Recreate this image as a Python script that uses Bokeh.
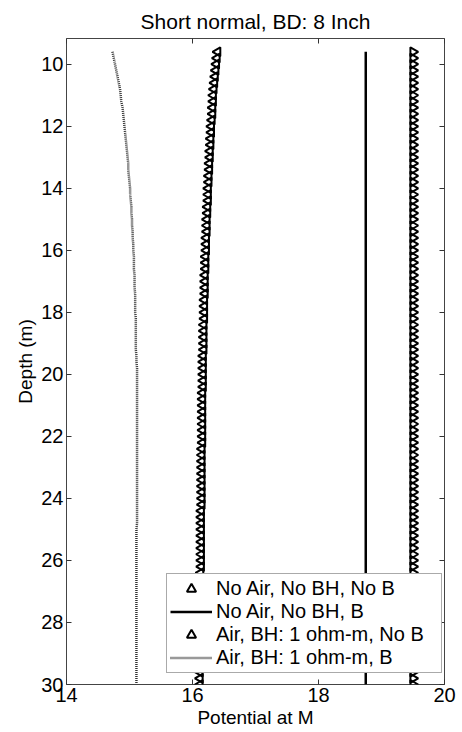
from math import pi

from bokeh.plotting import figure
from bokeh.models import (Range1d, LinearAxis, FixedTicker, Legend, LegendItem,
                          CustomJSTickFormatter)
from bokeh.embed import file_html
from bokeh.resources import INLINE

# Depth samples (m), every 0.2 m from 9.6 to 30.0
depth = [round(9.6 + 0.2 * i, 1) for i in range(103)]

# Potential at M for each model
no_air_no_bh_no_b = [19.50] * len(depth)
no_air_no_bh_b = [18.75] * len(depth)
air_bh_1ohm_no_b = [
    16.40, 16.39,
    16.38, 16.37, 16.36, 16.35, 16.34,
    16.33, 16.33, 16.32, 16.32, 16.31,
    16.30, 16.30, 16.29, 16.29, 16.28,
    16.28, 16.27, 16.27, 16.26, 16.26,
    16.25, 16.25, 16.25, 16.24, 16.24,
    16.23, 16.23, 16.23, 16.22, 16.22,
    16.22, 16.21, 16.21, 16.21, 16.20,
    16.20, 16.20, 16.20, 16.19, 16.19,
    16.19, 16.19, 16.18, 16.18, 16.18,
    16.18, 16.18, 16.17, 16.17, 16.17,
    16.17, 16.17, 16.17, 16.16, 16.16,
    16.16, 16.16, 16.16, 16.16, 16.16,
    16.16, 16.16, 16.15, 16.15, 16.15,
    16.15, 16.15, 16.15, 16.15, 16.15,
    16.15, 16.15, 16.14, 16.14, 16.14,
    16.14, 16.14, 16.14, 16.14, 16.14,
    16.14, 16.14, 16.13, 16.13, 16.13,
    16.13, 16.13, 16.13, 16.13, 16.13,
    16.13, 16.13, 16.13, 16.13, 16.13,
    16.13, 16.12, 16.12, 16.12, 16.12,
    16.12,
]
air_bh_1ohm_b = [
    14.73, 14.75,
    14.77, 14.79, 14.81, 14.83, 14.85,
    14.86, 14.87, 14.89, 14.90, 14.91,
    14.92, 14.93, 14.94, 14.95, 14.96,
    14.97, 14.98, 14.98, 14.99, 15.00,
    15.01, 15.01, 15.02, 15.03, 15.03,
    15.04, 15.04, 15.05, 15.05, 15.06,
    15.06, 15.07, 15.07, 15.07, 15.08,
    15.08, 15.08, 15.09, 15.09, 15.09,
    15.09, 15.10, 15.10, 15.10, 15.10,
    15.10, 15.10, 15.11, 15.11, 15.12,
    15.12, 15.12, 15.12, 15.12, 15.12,
    15.12, 15.12, 15.12, 15.12, 15.12,
    15.12, 15.12, 15.12, 15.12, 15.12,
    15.12, 15.12, 15.12, 15.12, 15.12,
    15.12, 15.12, 15.12, 15.12, 15.12,
    15.11, 15.11, 15.11, 15.11, 15.11,
    15.11, 15.11, 15.11, 15.11, 15.11,
    15.11, 15.11, 15.11, 15.11, 15.11,
    15.11, 15.11, 15.11, 15.11, 15.11,
    15.11, 15.11, 15.11, 15.11, 15.11,
    15.11,
]

series_labels = [
    "No Air, No BH, No B",
    "No Air, No BH, B",
    "Air, BH: 1 ohm-m, No B",
    "Air, BH: 1 ohm-m, B",
]
x_ticks = [14, 16, 18, 20]
y_ticks = [10, 12, 14, 16, 18, 20, 22, 24, 26, 28, 30]

FONT = "Liberation Sans"

p = figure(
    width=462, height=732,
    output_backend="svg", toolbar_location=None,
    x_range=Range1d(14, 20), y_range=Range1d(30, 9.17),
    title="Short normal, BD: 8 Inch",
    min_border_left=66, min_border_right=18,
    min_border_top=38, min_border_bottom=48,
)
p.background_fill_color = "white"
p.border_fill_color = "white"
p.outline_line_color = "#444444"
p.outline_line_width = 1
p.xgrid.grid_line_color = None
p.ygrid.grid_line_color = None

p.title.align = "center"
p.title.vertical_align = "middle"
p.title.text_font = FONT
p.title.text_font_size = "21px"
p.title.text_font_style = "normal"
p.title.text_color = "black"

for ax, ticks in ((p.xaxis[0], x_ticks), (p.yaxis[0], y_ticks)):
    ax.ticker = FixedTicker(ticks=ticks)
    ax.axis_line_color = None
    ax.major_tick_in = 5
    ax.major_tick_out = 0
    ax.major_tick_line_color = "#333333"
    ax.minor_tick_line_color = None
    ax.major_label_text_font = FONT
    ax.major_label_text_font_size = "20px"
    ax.major_label_text_color = "black"
    ax.major_label_standoff = 3
    ax.axis_label_text_font = FONT
    ax.axis_label_text_font_size = "19px"
    ax.axis_label_text_font_style = "normal"
    ax.axis_label_text_color = "black"
    ax.axis_label_standoff = 2

p.xaxis.axis_label = "Potential at M"
p.yaxis.axis_label = "Depth (m)"

# tick marks on the top and right edges of the box, without labels
for side, ticks in (("above", x_ticks), ("right", y_ticks)):
    extra = LinearAxis(
        ticker=FixedTicker(ticks=ticks),
        formatter=CustomJSTickFormatter(code="return ''"),
        axis_line_color=None,
        major_tick_in=5, major_tick_out=0,
        major_tick_line_color="#333333",
        minor_tick_line_color=None,
        major_label_standoff=0,
    )
    p.add_layout(extra, side)

r1 = p.scatter(no_air_no_bh_no_b, depth, marker="triangle", angle=-pi / 2,
               size=9, line_color="black", line_width=2, fill_color=None)
r2 = p.line(no_air_no_bh_b, depth, line_color="black", line_width=2.5)
r3 = p.scatter(air_bh_1ohm_no_b, depth, marker="triangle", angle=pi / 2,
               size=9, line_color="black", line_width=2, fill_color=None)
r4 = p.line(air_bh_1ohm_b, depth, line_color="#333333", line_width=2.5,
            line_dash="1 1")

legend = Legend(
    items=[LegendItem(label=lab, renderers=[r])
           for lab, r in zip(series_labels, (r1, r2, r3, r4))],
    location=(100, 11),
    padding=3, spacing=0, margin=0,
    glyph_width=42, glyph_height=23, label_height=23,
    label_standoff=4, label_width=222,
    label_text_font=FONT, label_text_font_size="20px", label_text_color="black",
    border_line_color="#555555", border_line_width=1,
    background_fill_color="white", background_fill_alpha=1,
)
p.add_layout(legend)

open("out.html", "w").write(file_html(p, INLINE))
